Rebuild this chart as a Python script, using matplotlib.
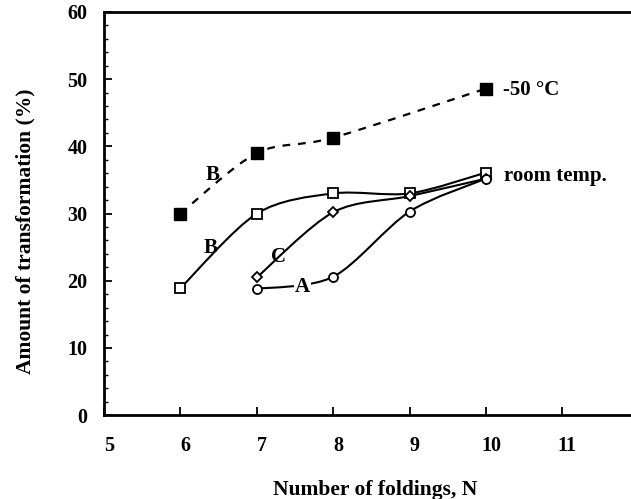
import numpy as np
import matplotlib.pyplot as plt
from matplotlib.path import Path
from matplotlib.patches import PathPatch
from matplotlib.ticker import MultipleLocator
import matplotlib.transforms as mtransforms

plt.rcParams['font.family'] = 'Liberation Serif'
plt.rcParams['font.weight'] = 'bold'

# number of foldings and amount of transformation (%)
n_cold = [6, 7, 8, 10]
cold = [30.0, 39.0, 41.3, 48.6]

n_b = [6, 7, 8, 9, 10]
room_b = [18.9, 30.0, 33.0, 33.0, 36.1]

n_c = [7, 8, 9, 10]
room_c = [20.5, 30.2, 32.6, 35.2]

n_a = [7, 8, 9, 10]
room_a = [18.8, 20.6, 30.3, 35.2]


def smooth_path(x, y, k=0.15):
    # Catmull-Rom style bezier through the points
    x = np.asarray(x, float)
    y = np.asarray(y, float)
    verts = [(x[0], y[0])]
    codes = [Path.MOVETO]
    for i in range(len(x) - 1):
        x0, y0 = (x[i - 1], y[i - 1]) if i > 0 else (x[i], y[i])
        x3, y3 = (x[i + 2], y[i + 2]) if i + 2 < len(x) else (x[i + 1], y[i + 1])
        c1 = (x[i] + k * (x[i + 1] - x0), y[i] + k * (y[i + 1] - y0))
        c2 = (x[i + 1] - k * (x3 - x[i]), y[i + 1] - k * (y3 - y[i]))
        verts += [c1, c2, (x[i + 1], y[i + 1])]
        codes += [Path.CURVE4] * 3
    return Path(verts, codes)


fig = plt.figure(figsize=(6.31, 4.99), dpi=100)
ax = fig.add_axes([0.165, 0.168, 0.835, 0.808])

ax.add_patch(PathPatch(smooth_path(n_cold, cold), fill=False, lw=1.6,
                       ls=(0, (3.5, 3.5)), color='black'))
ax.plot(n_cold, cold, ls='none', marker='s', ms=8.5, mfc='black', mec='black')

for xs, ys, mk, ms in [(n_b, room_b, 's', 7), (n_c, room_c, 'D', 5.5),
                       (n_a, room_a, 'o', 6.5)]:
    ax.add_patch(PathPatch(smooth_path(xs, ys), fill=False, lw=1.5, color='black'))
    ax.plot(xs, ys, ls='none', marker=mk, ms=ms, mfc='white', mec='black', mew=1.3)

lbl = dict(fontsize=15, fontweight='bold', ha='center', va='center')
ax.text(6.42, 35.7, 'B', **lbl)
ax.text(6.39, 24.9, 'B', **lbl)
ax.text(7.28, 23.5, 'C', **lbl)
ax.text(7.6, 19.1, 'A', bbox=dict(fc='white', ec='none', pad=0.5), **lbl)
ax.text(10.23, 48.4, '-50 \u00b0C', fontsize=15, fontweight='bold', va='center')
ax.text(10.24, 35.6, 'room temp.', fontsize=15, fontweight='bold', va='center')

ax.set_xlim(5, 11.9)
ax.set_ylim(0, 60)
ax.yaxis.set_major_locator(MultipleLocator(10))
ax.yaxis.set_minor_locator(MultipleLocator(2))
ax.set_xticks([5, 6, 7, 8, 9, 10, 11])

ax.tick_params(axis='both', which='both', direction='in', labelsize=14.5)
ax.tick_params(axis='x', which='major', length=6, width=1.3, pad=15)
ax.tick_params(axis='y', which='major', length=6, width=1.3, pad=12)
ax.tick_params(axis='y', which='minor', length=3, width=1.0)
for t in ax.get_xticklabels():
    t.set_transform(t.get_transform() +
                    mtransforms.ScaledTranslation(5 / 100, 0, fig.dpi_scale_trans))
for t in ax.get_xticklabels() + ax.get_yticklabels():
    t.set_fontweight('bold')

ax.spines['right'].set_visible(False)
for s in ['left', 'top', 'bottom']:
    ax.spines[s].set_linewidth(2)

ax.set_xlabel('Number of foldings, N', fontsize=15.5, fontweight='bold')
ax.xaxis.set_label_coords(0.514, -0.186)
ax.xaxis.label.set_va('center')
ax.set_ylabel('Amount of transformation (%)', fontsize=15.5, fontweight='bold')
ax.yaxis.set_label_coords(-0.15, 0.456)
ax.yaxis.label.set_va('center')

fig.savefig('out.png', dpi=100)
